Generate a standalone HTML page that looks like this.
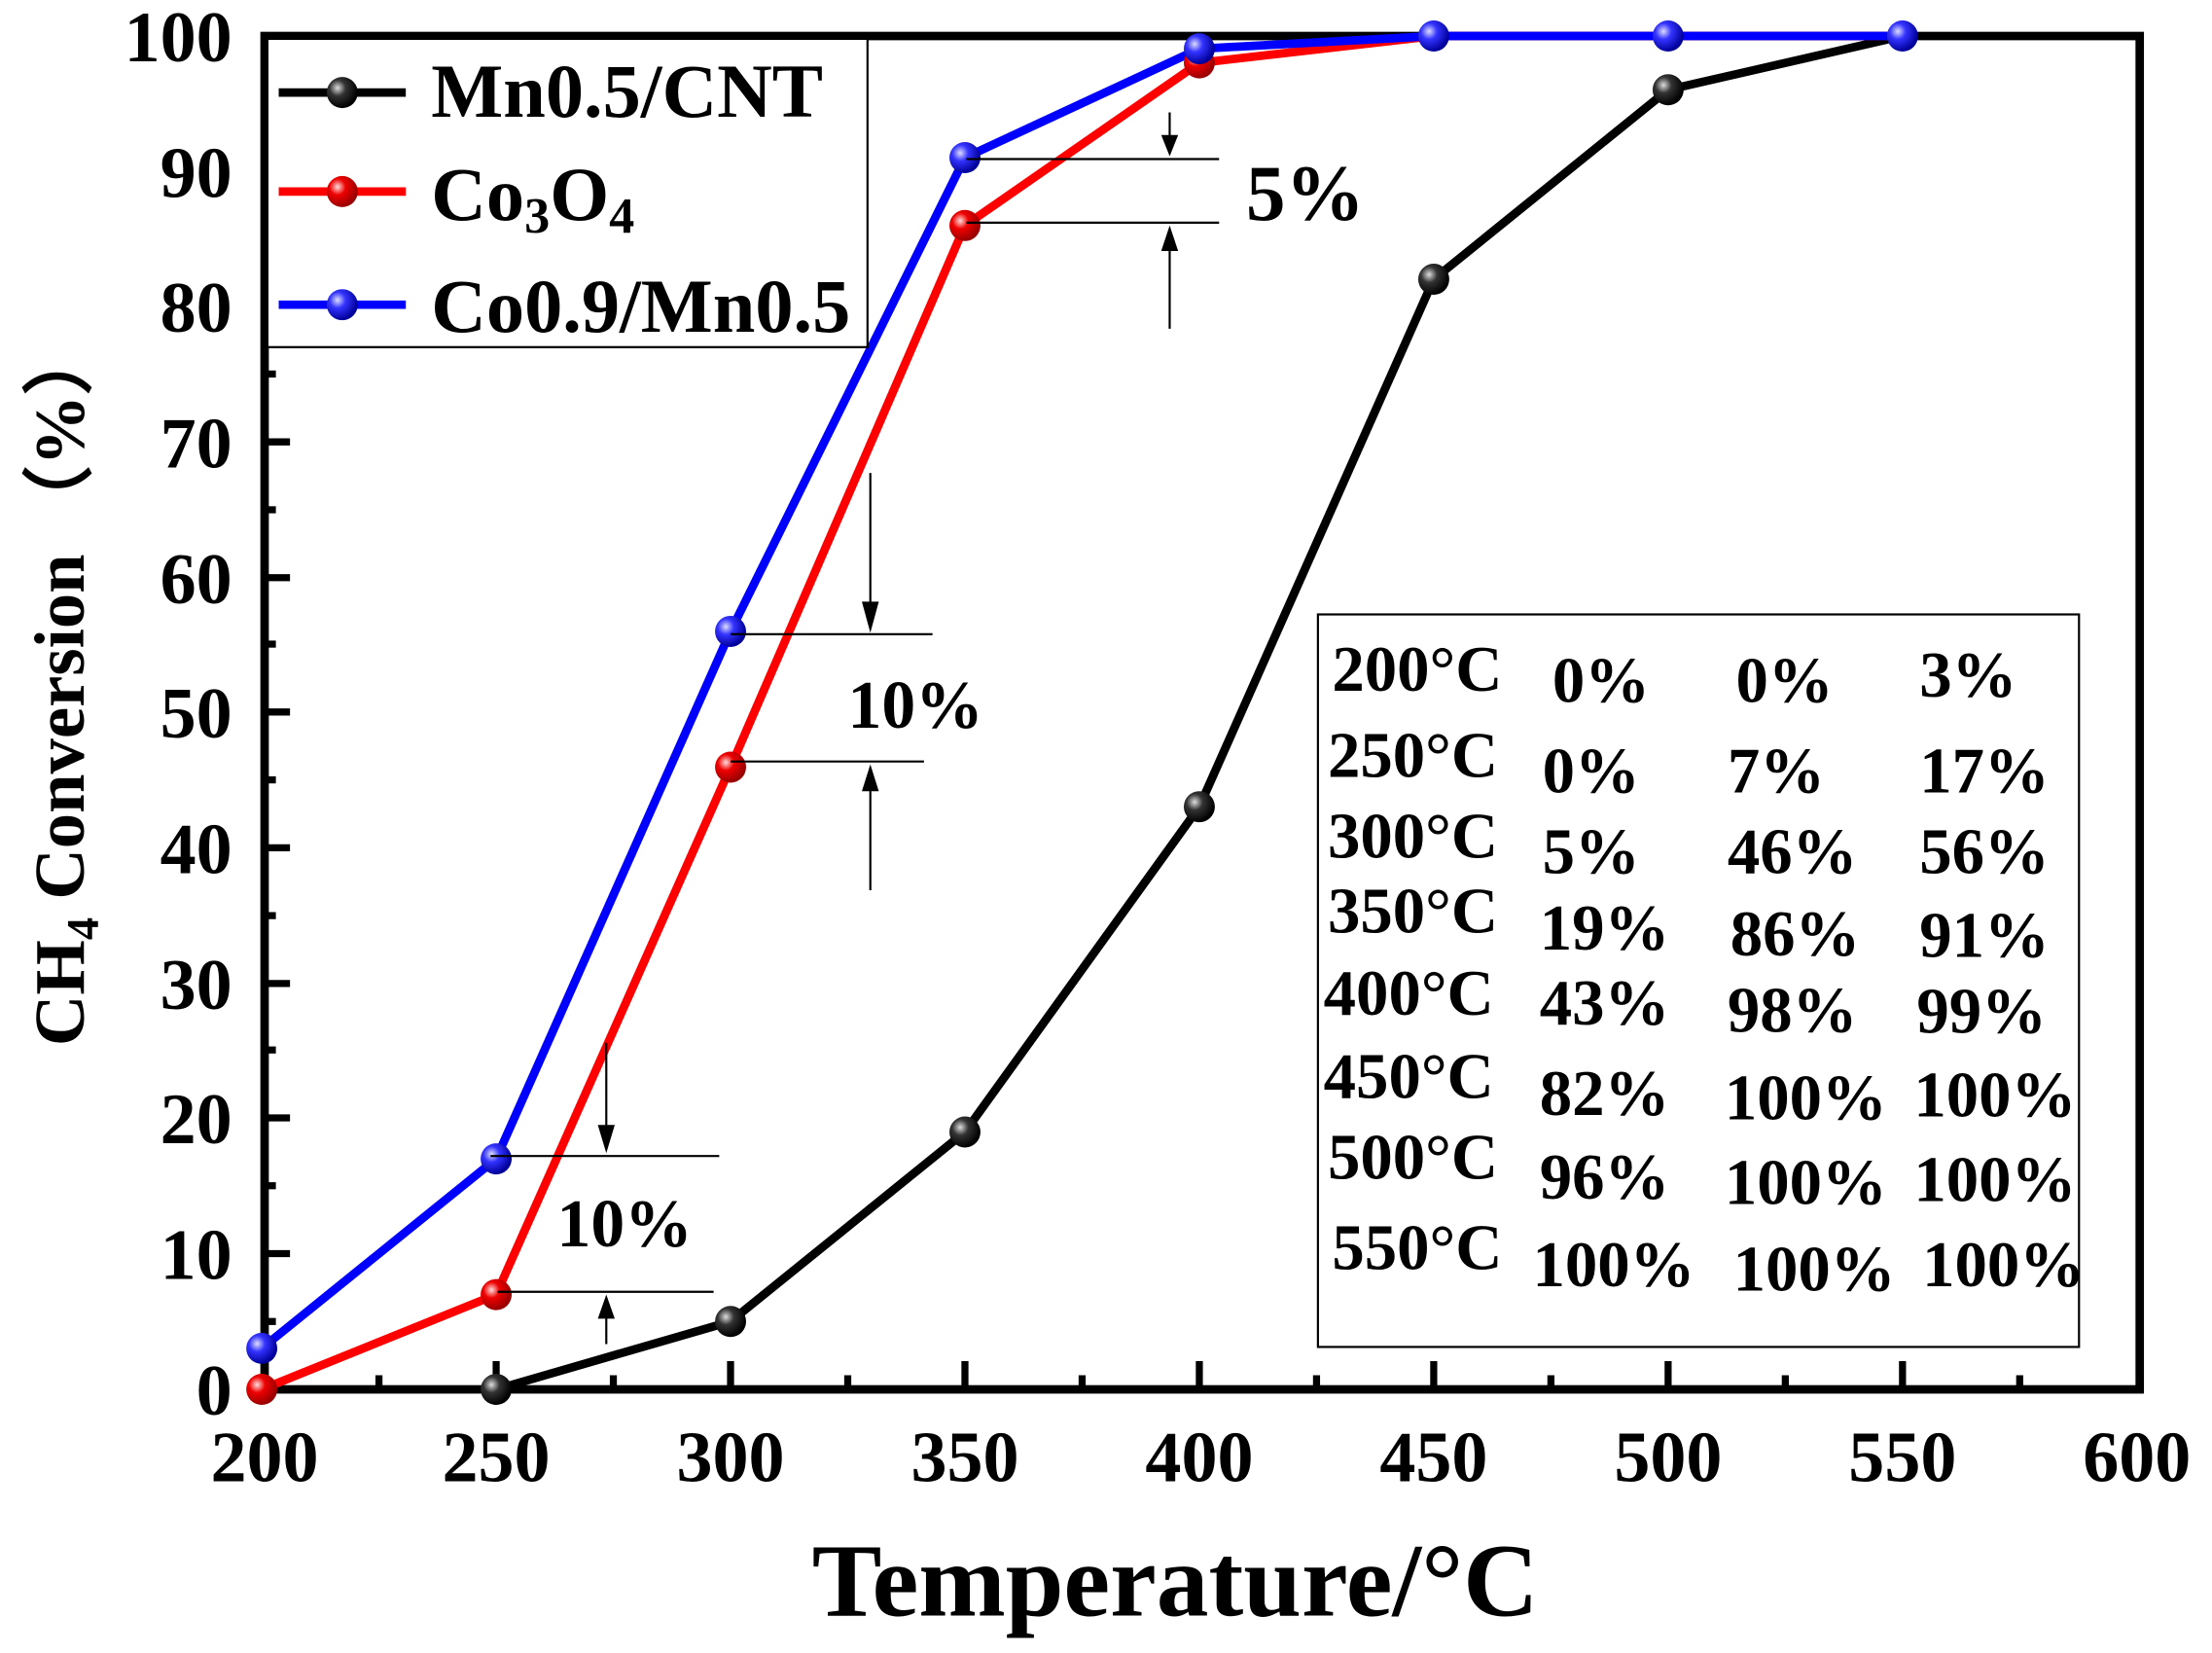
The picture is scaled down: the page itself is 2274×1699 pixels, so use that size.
<!DOCTYPE html>
<html><head><style>html,body{margin:0;padding:0;background:#fff;}svg{display:block}</style></head>
<body>
<svg width="2274" height="1699" viewBox="0 0 1560 1165.5" preserveAspectRatio="none" xmlns="http://www.w3.org/2000/svg" font-family="Liberation Serif, serif" font-weight="bold">
<defs>
<radialGradient id="gk" cx="35%" cy="35%" r="65%"><stop offset="0" stop-color="#ddd"/><stop offset="0.4" stop-color="#333"/><stop offset="1" stop-color="#000"/></radialGradient>
<radialGradient id="gr" cx="35%" cy="35%" r="65%"><stop offset="0" stop-color="#fdd"/><stop offset="0.4" stop-color="#e00"/><stop offset="1" stop-color="#900"/></radialGradient>
<radialGradient id="gb" cx="35%" cy="35%" r="65%"><stop offset="0" stop-color="#ddf"/><stop offset="0.4" stop-color="#33f"/><stop offset="1" stop-color="#009"/></radialGradient>
</defs>
<g transform="translate(-2.6,-2.52) scale(0.9958,0.9971)">
<!-- ticks -->
<g stroke="#000" stroke-width="5">
<line x1="188" y1="28" x2="208" y2="28"/><line x1="188" y1="124" x2="208" y2="124"/><line x1="188" y1="219" x2="208" y2="219"/><line x1="188" y1="315" x2="208" y2="315"/><line x1="188" y1="411" x2="208" y2="411"/><line x1="188" y1="506" x2="208" y2="506"/><line x1="188" y1="602" x2="208" y2="602"/><line x1="188" y1="698" x2="208" y2="698"/><line x1="188" y1="793" x2="208" y2="793"/><line x1="188" y1="889" x2="208" y2="889"/>
<line x1="188" y1="76" x2="198" y2="76"/><line x1="188" y1="171" x2="198" y2="171"/><line x1="188" y1="267" x2="198" y2="267"/><line x1="188" y1="363" x2="198" y2="363"/><line x1="188" y1="458" x2="198" y2="458"/><line x1="188" y1="554" x2="198" y2="554"/><line x1="188" y1="650" x2="198" y2="650"/><line x1="188" y1="745" x2="198" y2="745"/><line x1="188" y1="841" x2="198" y2="841"/><line x1="188" y1="937" x2="198" y2="937"/>
<line x1="354" y1="985" x2="354" y2="965"/><line x1="520" y1="985" x2="520" y2="965"/><line x1="686" y1="985" x2="686" y2="965"/><line x1="852" y1="985" x2="852" y2="965"/><line x1="1018" y1="985" x2="1018" y2="965"/><line x1="1184" y1="985" x2="1184" y2="965"/><line x1="1350" y1="985" x2="1350" y2="965"/>
<line x1="271" y1="985" x2="271" y2="975"/><line x1="437" y1="985" x2="437" y2="975"/><line x1="603" y1="985" x2="603" y2="975"/><line x1="769" y1="985" x2="769" y2="975"/><line x1="935" y1="985" x2="935" y2="975"/><line x1="1101" y1="985" x2="1101" y2="975"/><line x1="1267" y1="985" x2="1267" y2="975"/><line x1="1433" y1="985" x2="1433" y2="975"/>
</g>
<rect x="190" y="28" width="1328" height="957" fill="none" stroke="#000" stroke-width="6"/>
<!-- tick labels -->
<g font-size="51" text-anchor="end">
<text x="167" y="1003">0</text><text x="167" y="907">10</text><text x="167" y="811">20</text><text x="167" y="716">30</text><text x="167" y="620">40</text><text x="167" y="524">50</text><text x="167" y="429">60</text><text x="167" y="333">70</text><text x="167" y="237">80</text><text x="167" y="142">90</text><text x="167" y="46">100</text>
</g>
<g font-size="51" text-anchor="middle">
<text x="190" y="1050">200</text><text x="354" y="1050">250</text><text x="520" y="1050">300</text><text x="686" y="1050">350</text><text x="852" y="1050">400</text><text x="1018" y="1050">450</text><text x="1184" y="1050">500</text><text x="1350" y="1050">550</text><text x="1516" y="1050">600</text>
</g>
<text x="835" y="1145" font-size="74" text-anchor="middle">Temperature/°C</text>
<text transform="translate(62,487) rotate(-90)" font-size="50" text-anchor="middle">CH<tspan font-size="32" dy="10">4</tspan><tspan dy="-10"> Conversion （%）</tspan></text>
<!-- series -->
<g fill="none" stroke-width="6" stroke-linejoin="round">
<polyline stroke="#000" points="354,985 520,937 686,803 852,573 1018,200 1184,66 1350,28"/>
<polyline stroke="#f00" points="188,985 354,918 520,545 686,162 852,47 1018,28 1184,28 1350,28"/>
<polyline stroke="#00f" points="188,956 354,822 520,449 686,114 852,37 1018,28 1184,28 1350,28"/>
</g>
<g>
<circle cx="354" cy="985" r="11" fill="url(#gk)"/><circle cx="520" cy="937" r="11" fill="url(#gk)"/><circle cx="686" cy="803" r="11" fill="url(#gk)"/><circle cx="852" cy="573" r="11" fill="url(#gk)"/><circle cx="1018" cy="200" r="11" fill="url(#gk)"/><circle cx="1184" cy="66" r="11" fill="url(#gk)"/>
<circle cx="188" cy="985" r="11" fill="url(#gr)"/><circle cx="354" cy="918" r="11" fill="url(#gr)"/><circle cx="520" cy="545" r="11" fill="url(#gr)"/><circle cx="686" cy="162" r="11" fill="url(#gr)"/><circle cx="852" cy="47" r="11" fill="url(#gr)"/>
<circle cx="188" cy="956" r="11" fill="url(#gb)"/><circle cx="354" cy="822" r="11" fill="url(#gb)"/><circle cx="520" cy="449" r="11" fill="url(#gb)"/><circle cx="686" cy="114" r="11" fill="url(#gb)"/><circle cx="852" cy="37" r="11" fill="url(#gb)"/><circle cx="1018" cy="28" r="11" fill="url(#gb)"/><circle cx="1184" cy="28" r="11" fill="url(#gb)"/><circle cx="1350" cy="28" r="11" fill="url(#gb)"/>
</g>
<!-- legend -->
<rect x="192" y="30" width="425" height="218" fill="#fff" stroke="#000" stroke-width="1.5"/>
<line x1="200" y1="68" x2="290" y2="68" stroke="#000" stroke-width="6"/><circle cx="245" cy="68" r="11" fill="url(#gk)"/>
<line x1="200" y1="138" x2="290" y2="138" stroke="#f00" stroke-width="6"/><circle cx="245" cy="138" r="11" fill="url(#gr)"/>
<line x1="200" y1="218" x2="290" y2="218" stroke="#00f" stroke-width="6"/><circle cx="245" cy="218" r="11" fill="url(#gb)"/>
<g font-size="54"><text x="308" y="85">Mn0.5/CNT</text><text x="308" y="158">Co<tspan font-size="36" dy="9">3</tspan><tspan dy="-9">O</tspan><tspan font-size="36" dy="9">4</tspan></text><text x="308" y="237">Co0.9/Mn0.5</text></g>
<!-- annotations -->
<g stroke="#000" stroke-width="1.5">
<line x1="687" y1="115" x2="866" y2="115"/><line x1="687" y1="160" x2="866" y2="160"/>
<line x1="831" y1="82" x2="831" y2="100"/><line x1="831" y1="180" x2="831" y2="235"/>
<line x1="520" y1="451" x2="663" y2="451"/><line x1="520" y1="541" x2="657" y2="541"/>
<line x1="619" y1="337" x2="619" y2="430"/><line x1="619" y1="560" x2="619" y2="632"/>
<line x1="350" y1="820" x2="512" y2="820"/><line x1="355" y1="916" x2="508" y2="916"/>
<line x1="432" y1="740" x2="432" y2="800"/><line x1="432" y1="933" x2="432" y2="953"/>
</g>
<g fill="#000">
<polygon points="825,98 837,98 831,113"/><polygon points="825,180 837,180 831,162"/>
<polygon points="613,428 625,428 619,450"/><polygon points="613,562 625,562 619,543"/>
<polygon points="426,798 438,798 432,818"/><polygon points="426,935 438,935 432,918"/>
</g>
<text x="885" y="158" font-size="56">5%</text>
<text x="603" y="517" font-size="48">10%</text>
<text x="397" y="884" font-size="48">10%</text>
<!-- table -->
<rect x="936" y="437" width="539" height="518" fill="none" stroke="#000" stroke-width="1.5"/>
<g font-size="46">
<text x="946" y="491">200°C</text><text x="1102" y="499">0%</text><text x="1232" y="499">0%</text><text x="1362" y="495">3%</text>
<text x="943" y="552">250°C</text><text x="1095" y="563">0%</text><text x="1226" y="563">7%</text><text x="1362" y="563">17%</text>
<text x="943" y="609">300°C</text><text x="1095" y="620">5%</text><text x="1226" y="620">46%</text><text x="1362" y="620">56%</text>
<text x="943" y="662">350°C</text><text x="1093" y="674">19%</text><text x="1228" y="678">86%</text><text x="1362" y="679">91%</text>
<text x="940" y="720">400°C</text><text x="1093" y="727">43%</text><text x="1226" y="732">98%</text><text x="1360" y="733">99%</text>
<text x="940" y="779">450°C</text><text x="1093" y="791">82%</text><text x="1224" y="794">100%</text><text x="1358" y="792">100%</text>
<text x="943" y="836">500°C</text><text x="1093" y="850">96%</text><text x="1224" y="854">100%</text><text x="1358" y="852">100%</text>
<text x="946" y="900">550°C</text><text x="1088" y="912">100%</text><text x="1230" y="915">100%</text><text x="1364" y="912">100%</text>
</g>
</g>
</svg>
</body></html>
